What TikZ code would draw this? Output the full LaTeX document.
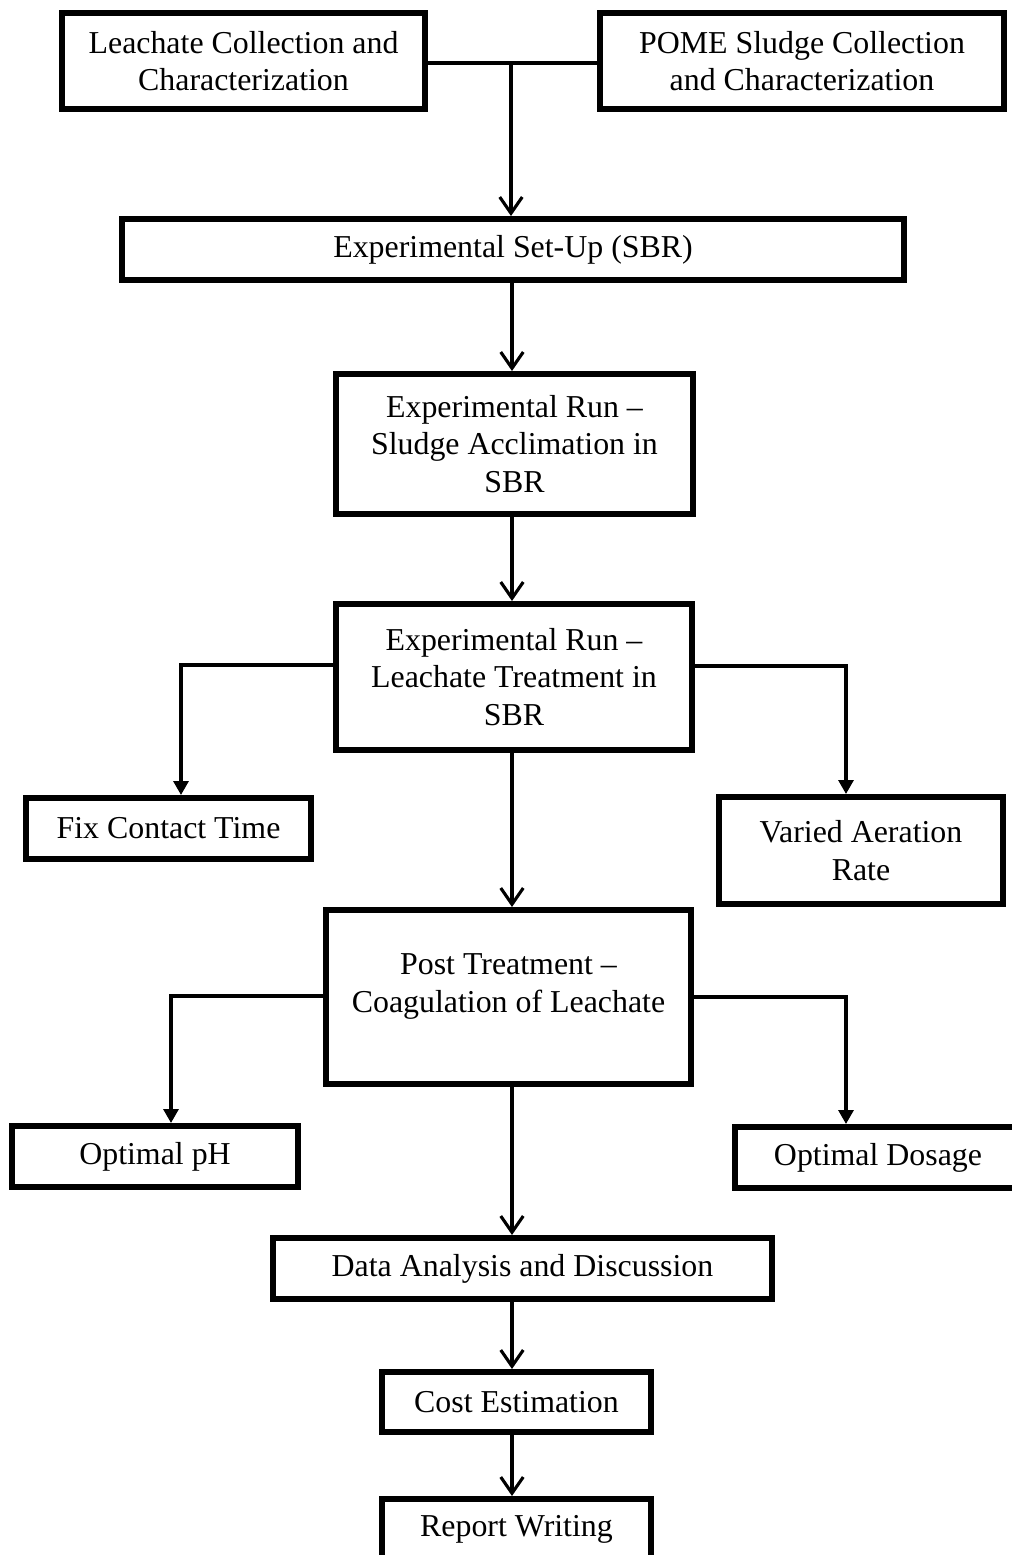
\documentclass[tikz,border=0pt]{standalone}
\usepackage{fontspec}
\setmainfont{Liberation Serif}
\usetikzlibrary{arrows.meta}

\begin{document}
\begin{tikzpicture}[x=0.4pt, y=-0.4pt,
    font=\fontsize{12.75pt}{15pt}\selectfont,
    box/.style={draw, rectangle, line width=2.3pt, align=center, inner sep=2pt},
    flow/.style={-{Straight Barb[length=6.5pt,width=9pt]}, line width=1.25pt},
    fork/.style={-{Triangle[length=5.6pt,width=6pt]}, line width=1.25pt},
    link/.style={line width=1.25pt}]
    \useasboundingbox (0,0) rectangle (1012,1555);

    \node (leach) at (243.5,61) [box, minimum width=145.3pt, minimum height=38.5pt] {Leachate Collection and\\Characterization};
    \node (pome) at (802,61) [box, minimum width=161.7pt, minimum height=38.5pt] {POME Sludge Collection\\and Characterization};
    \node (setup) at (513,249.5) [box, minimum width=312.9pt, minimum height=24.5pt] {Experimental Set-Up (SBR)};

    \node (acclim) at (514.5,444) [box, minimum width=142.9pt, minimum height=56.1pt] {Experimental Run –\\Sludge Acclimation in\\SBR};
    \node (treat) at (514,677) [box, minimum width=142.5pt, minimum height=58.5pt] {Experimental Run –\\Leachate Treatment in\\SBR};
    \node (contact) at (168.5,828.5) [box, minimum width=114.1pt, minimum height=24.5pt] {Fix Contact Time};
    \node (aeration) at (861,850.5) [box, minimum width=113.7pt, minimum height=42.9pt] {Varied Aeration\\Rate};

    \node (post) at (508.5,997) [box, minimum width=146.1pt, minimum height=69.7pt] {};
    \node (posttext) at ([yshift=4.2pt]post.center) [align=center] {Post Treatment –\\Coagulation of Leachate};
    \node (ph) at (155,1156.5) [box, minimum width=114.5pt, minimum height=24.5pt] {Optimal pH};
    \node (dosage) at (878,1157.5) [box, minimum width=114.5pt, minimum height=24.5pt] {Optimal Dosage};

    \node (data) at (522.5,1268.5) [box, minimum width=199.7pt, minimum height=24.5pt] {Data Analysis and Discussion};
    \node (cost) at (516.5,1402) [box, minimum width=107.7pt, minimum height=24.1pt] {Cost Estimation};
    \node (report) at (516.5,1529) [box, minimum width=107.7pt, minimum height=24.1pt] {Report Writing};

    \coordinate (join) at (511,63);
    \coordinate (spine) at (512,0);
    \coordinate (tleft) at (181,665);
    \coordinate (tright) at (846,666);
    \coordinate (pleft) at (171,996);
    \coordinate (pright) at (846,997);

    \draw[link] (leach.east |- join) -- (pome.west |- join);
    \draw[flow] (join) -- (setup.north -| join);
    \draw[flow] (setup.south -| spine) -- (acclim.north -| spine);
    \draw[flow] (acclim.south -| spine) -- (treat.north -| spine);
    \draw[flow] (treat.south -| spine) -- (post.north -| spine);
    \draw[flow] (post.south -| spine) -- (data.north -| spine);
    \draw[flow] (data.south -| spine) -- (cost.north -| spine);
    \draw[flow] (cost.south -| spine) -- (report.north -| spine);

    \draw[fork] (treat.west |- tleft) -| (contact.north -| tleft);
    \draw[fork] (treat.east |- tright) -| (aeration.north -| tright);
    \draw[fork] (post.west |- pleft) -| (ph.north -| pleft);
    \draw[fork] (post.east |- pright) -| (dosage.north -| pright);
\end{tikzpicture}
\end{document}
